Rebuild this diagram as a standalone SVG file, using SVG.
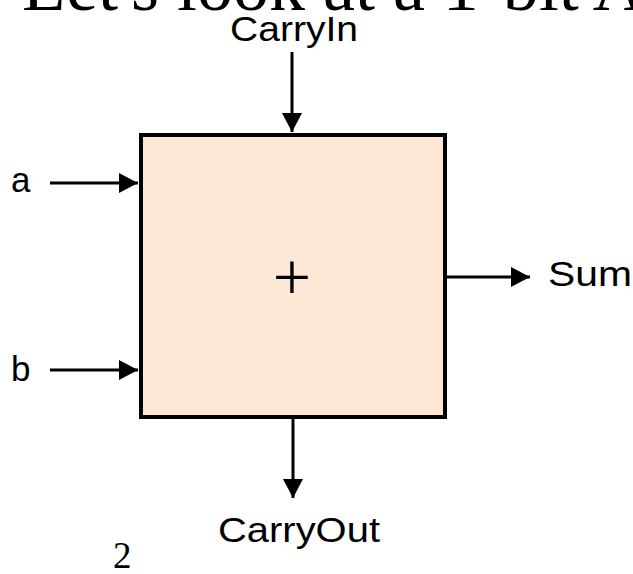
<svg xmlns="http://www.w3.org/2000/svg" width="633" height="574" viewBox="0 0 633 574">
  <style>
    .lbl { font-family: "Liberation Sans", Arial, sans-serif; font-size: 35px; fill: #000; }
    .serif { font-family: "Liberation Serif", "Times New Roman", serif; fill: #000; }
    .wire { stroke: #000; stroke-width: 3; fill: none; }
    .box { fill: #FCE8D5; stroke: #000; stroke-width: 4; }
  </style>
  <defs>
    <marker id="arrow" markerUnits="userSpaceOnUse" markerWidth="19" markerHeight="20" refX="19" refY="10" orient="auto">
      <path d="M0,0 L19,10 L0,20 z" fill="#000"/>
    </marker>
  </defs>

  <rect width="633" height="574" fill="#fff"/>

  <!-- slide title, clipped at the top edge -->
  <text class="serif" x="22" y="10" font-size="72">Let's look at a 1-bit Adder</text>

  <!-- adder block -->
  <g id="adder">
    <rect class="box" x="141" y="135" width="304" height="282"/>
    <text class="serif" x="292" y="300" font-size="68" text-anchor="middle">+</text>
  </g>

  <!-- port labels -->
  <g id="carryin">
    <text class="lbl" x="230" y="41" textLength="128" lengthAdjust="spacingAndGlyphs">CarryIn</text>
  </g>
  <g id="a">
    <text class="lbl" x="11" y="192" font-size="38">a</text>
  </g>
  <g id="b">
    <text class="lbl" x="11" y="381" font-size="38">b</text>
  </g>
  <g id="sum">
    <text class="lbl" x="548" y="286" textLength="84" lengthAdjust="spacingAndGlyphs">Sum</text>
  </g>
  <g id="carryout">
    <text class="lbl" x="218" y="542" textLength="162" lengthAdjust="spacingAndGlyphs">CarryOut</text>
  </g>

  <!-- connectors -->
  <g id="connectors">
    <line class="wire" x1="292" y1="52" x2="292" y2="132" marker-end="url(#arrow)"/>
    <line class="wire" x1="50" y1="183" x2="138" y2="183" marker-end="url(#arrow)"/>
    <line class="wire" x1="50" y1="370" x2="138" y2="370" marker-end="url(#arrow)"/>
    <line class="wire" x1="447" y1="277" x2="530" y2="277" marker-end="url(#arrow)"/>
    <line class="wire" x1="293" y1="419" x2="293" y2="498" marker-end="url(#arrow)"/>
  </g>

  <!-- slide number -->
  <text class="serif" x="113" y="568" font-size="37">2</text>
</svg>
